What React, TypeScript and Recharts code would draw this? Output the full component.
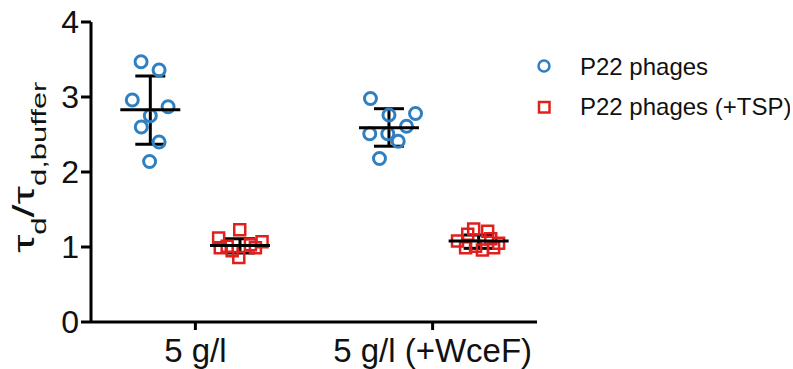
import React from 'react';
import {
  ComposedChart,
  Scatter,
  XAxis,
  YAxis,
  ErrorBar,
} from 'recharts';

const categories = ['5 g/l', '5 g/l (+WceF)'];
const seriesNames = ['P22 phages', 'P22 phages (+TSP)'];
const yTicks = [0, 1, 2, 3, 4];

// x = category position (1, 2) plus the horizontal scatter of each dot
const phageX = [0.771, 0.847, 0.734, 0.885, 0.81, 0.772, 0.847, 0.807, 1.738, 1.928, 1.816, 1.89, 1.735, 1.811, 1.855, 1.776];
const phageY = [3.47, 3.36, 2.96, 2.87, 2.75, 2.6, 2.4, 2.14, 2.98, 2.78, 2.76, 2.61, 2.51, 2.51, 2.41, 2.18];

const tspX = [1.187, 1.098, 1.134, 1.281, 1.232, 1.183, 1.155, 1.253, 1.105, 2.173, 2.232, 2.148, 2.105, 2.245, 2.278, 2.139, 2.21, 2.181, 2.257];
const tspY = [1.23, 1.12, 1.01, 1.07, 1.03, 0.86, 0.95, 0.99, 0.99, 1.24, 1.21, 1.17, 1.08, 1.11, 1.05, 0.99, 0.96, 1.01, 0.99];

const meanX = [0.81, 1.188, 1.816, 2.194];
const meanY = [2.83, 1.02, 2.59, 1.08];
const sdLow = [0.46, 0.1, 0.246, 0.098];
const sdHigh = [0.45, 0.09, 0.254, 0.08];

const BLUE = '#2f80c2';
const RED = '#e0201f';
const FONT = '"Liberation Sans", Arial, sans-serif';

const phageData = phageX.map((x, i) => ({ x, y: phageY[i] }));
const tspData = tspX.map((x, i) => ({ x, y: tspY[i] }));
const meanData = meanX.map((x, i) => ({ x, y: meanY[i], err: [sdLow[i], sdHigh[i]] }));

const Circle = (p: any) => (
  <circle cx={p.cx} cy={p.cy} r={6} fill="none" stroke={BLUE} strokeWidth={3} />
);
const Square = (p: any) => (
  <rect x={p.cx - 5.5} y={p.cy - 5.5} width={11} height={11} fill="none" stroke={RED} strokeWidth={2.5} />
);
const MeanLine = (p: any) => (
  <line x1={p.cx - 30} x2={p.cx + 30} y1={p.cy} y2={p.cy} stroke="#000" strokeWidth={3} />
);

const renderYLabel = () => (
  <text transform="translate(34, 253) rotate(-90) scale(1.55, 1)" fontFamily={FONT} fill="#111">
    <tspan fontSize={30}>τ</tspan>
    <tspan fontSize={20} dy={12}>d</tspan>
    <tspan fontSize={30} dy={-12}>/τ</tspan>
    <tspan fontSize={20} dy={12}>d,buffer</tspan>
  </text>
);

function ChartLegend() {
  return (
    <svg width={260} height={100} style={{ position: 'absolute', left: 530, top: 40 }}>
      <circle cx={14} cy={26} r={5.5} fill="none" stroke={BLUE} strokeWidth={2.5} />
      <text x={50} y={35} fontSize={24} fontFamily={FONT} fill="#111">{seriesNames[0]}</text>
      <rect x={9} y={62} width={10.5} height={10.5} fill="none" stroke={RED} strokeWidth={2.5} />
      <text x={50} y={75} fontSize={24} fontFamily={FONT} fill="#111">{seriesNames[1]}</text>
    </svg>
  );
}

export default function App() {
  return (
    <div style={{ position: 'absolute', left: 0, top: 0, width: 793, height: 369 }}>
      <ComposedChart
        width={793}
        height={369}
        margin={{ top: 22, right: 256, bottom: 0, left: 0 }}
      >
        <XAxis
          type="number"
          dataKey="x"
          domain={[0.56, 2.44]}
          ticks={[1, 2]}
          interval={0}
          tickFormatter={(v: number) => categories[Math.round(v) - 1]}
          allowDataOverflow
          height={47}
          tickSize={8}
          tickMargin={9}
          axisLine={{ stroke: '#000', strokeWidth: 3 }}
          tickLine={{ stroke: '#000', strokeWidth: 3 }}
          tick={{ fontSize: 33, fill: '#111', fontFamily: FONT }}
        />
        <YAxis
          type="number"
          dataKey="y"
          domain={[0, 4]}
          ticks={yTicks}
          width={91}
          tickSize={10}
          tickMargin={2}
          axisLine={{ stroke: '#000', strokeWidth: 3 }}
          tickLine={{ stroke: '#000', strokeWidth: 3 }}
          tick={{ fontSize: 32, fill: '#111', fontFamily: FONT }}
          label={{ content: renderYLabel }}
        />
        <Scatter name={seriesNames[0]} data={phageData} shape={Circle} isAnimationActive={false} />
        <Scatter name={seriesNames[1]} data={tspData} shape={Square} isAnimationActive={false} />
        <Scatter data={meanData} shape={MeanLine} isAnimationActive={false} legendType="none">
          <ErrorBar dataKey="err" direction="y" width={15} stroke="#000" strokeWidth={3} />
        </Scatter>
      </ComposedChart>
      <ChartLegend />
    </div>
  );
}
